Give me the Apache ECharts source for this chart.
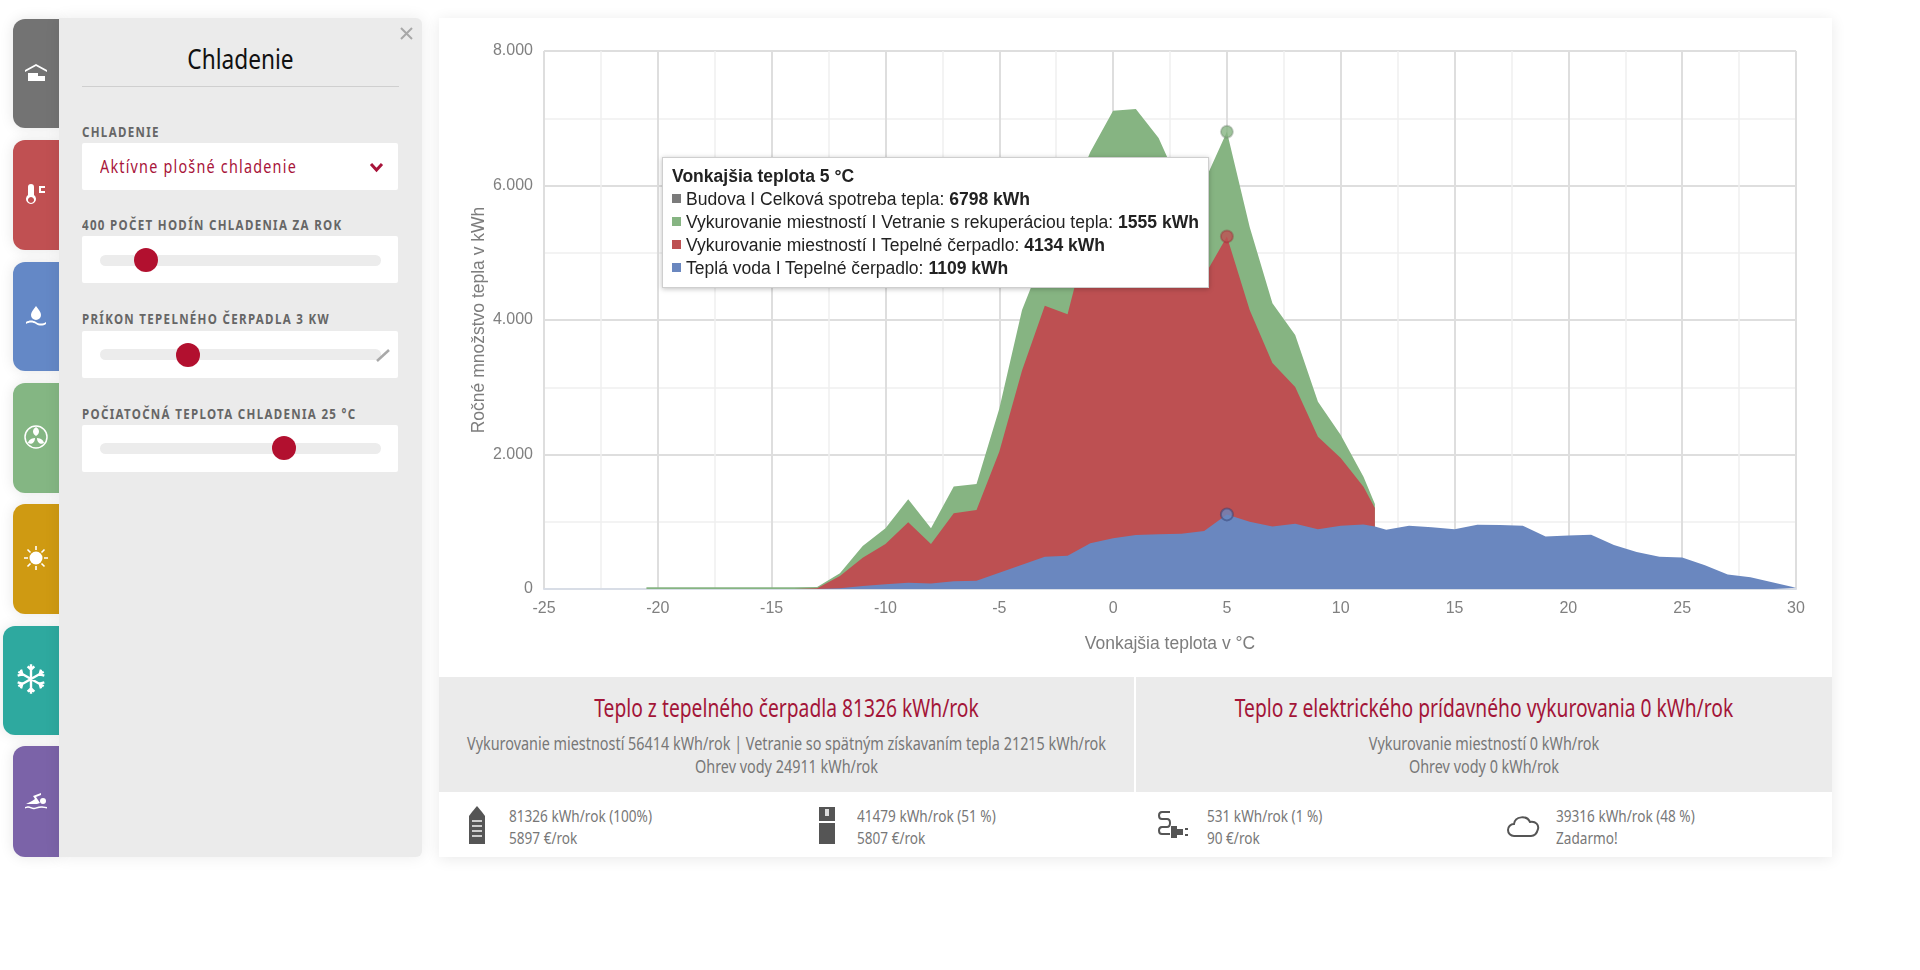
<!DOCTYPE html>
<html lang="sk">
<head>
<meta charset="utf-8">
<title>Chladenie</title>
<script src="https://cdn.jsdelivr.net/npm/echarts@6/dist/echarts.min.js"></script>
<style>
html,body{margin:0;padding:0;background:#fff;width:1920px;height:970px;overflow:hidden}
body{position:relative;font-family:"Noto Sans",sans-serif}
.abs{position:absolute}
.tab{position:absolute;left:13px;width:46px;border-radius:12px 0 0 12px;box-shadow:0 0 14px rgba(0,0,0,.1)}
.tab svg{position:absolute;left:11px;width:24px;height:24px;fill:#fff;stroke:none}
#panel{position:absolute;left:59px;top:18px;width:363px;height:839px;background:#ebebeb;border-radius:0 6px 6px 0;box-shadow:0 0 16px rgba(0,0,0,.08)}
#title{position:absolute;left:82px;top:38px;width:317px;text-align:center;font-size:28px;color:#111;line-height:40px;transform:scaleX(.81)}
#rule{position:absolute;left:82px;top:86px;width:317px;height:1px;background:#cfcfcf}
.lbl{position:absolute;left:82px;font-size:15px;font-weight:bold;letter-spacing:1.7px;color:#666;line-height:18px;white-space:nowrap;transform:scaleX(.77);transform-origin:0 50%}
.box{position:absolute;left:82px;width:316px;height:47px;background:#fff;border-radius:2px}
.track{position:absolute;left:100px;width:281px;height:11px;border-radius:6px;background:#ececec}
.thumb{position:absolute;width:24px;height:24px;border-radius:50%;background:#b2102f}
#sel{position:absolute;left:100px;top:155px;font-size:18px;letter-spacing:1.5px;color:#a8143a;line-height:22px;white-space:nowrap;transform:scaleX(.8);transform-origin:0 50%}
#card{position:absolute;left:439px;top:18px;width:1393px;height:839px;background:#fff;box-shadow:0 2px 14px rgba(0,0,0,.09)}
#chart{position:absolute;left:439px;top:18px;width:1393px;height:658px}
.band{position:absolute;top:677px;height:115px;background:#ebebeb;text-align:center;overflow:hidden}
.band h3{margin:16px -100px 0;font-size:25px;font-weight:normal;color:#a31538;line-height:28px;white-space:nowrap;transform:scaleX(.77)}
.band p{margin:0 -100px;font-size:18px;color:#777;line-height:23px;white-space:nowrap;transform:scaleX(.8)}
.band p.first{margin-top:11px}
.stat{position:absolute;top:806px;font-size:16px;color:#777;line-height:21.5px;white-space:nowrap;transform:scaleX(.85);transform-origin:0 50%}
.ico{position:absolute;top:806px;width:36px;height:38px}
</style>
</head>
<body>
<div class="tab" style="top:19px;height:109px;background:#737373"><svg style="top:42px" viewBox="0 0 24 24"><path d="M12 3L1 9v2L12 5l11 6V9zM4 12h10v3h7v5H4z"/></svg></div>
<div class="tab" style="top:140px;height:110px;background:#c05052"><svg style="top:42px" viewBox="0 0 24 24"><path d="M7 2a3 3 0 0 1 3 3v8a5 5 0 1 1-6 0V5a3 3 0 0 1 3-3zm0 13a3 3 0 1 0 .01 0zM15 4h6v2h-4v3h4v2h-6z"/></svg></div>
<div class="tab" style="top:262px;height:109px;background:#6488c6"><svg style="top:42px" viewBox="0 0 24 24"><path d="M12 2c3 4 5 6 5 9a5 5 0 0 1-10 0c0-3 2-5 5-9zM2 18c3-2 7-2 10 0s7 2 10 0v2c-3 2-7 2-10 0s-7-2-10 0z"/></svg></div>
<div class="tab" style="top:383px;height:110px;background:#84b683"><svg style="top:42px" viewBox="0 0 24 24"><circle cx="12" cy="12" r="11" fill="none" stroke="#fff" stroke-width="1.5"/><path d="M12 11C8 9 8 4 12 2c4 2 4 7 0 9zM11 13c-4 0-7 3-7 5 3 2 7 0 7-5zM13 13c4 0 7 3 7 5-3 2-7 0-7-5z"/></svg></div>
<div class="tab" style="top:504px;height:110px;background:#cf9a12"><svg style="top:42px" viewBox="0 0 24 24"><circle cx="12" cy="12" r="6.5"/><path d="M12 0v4M12 20v4M0 12h4M20 12h4M3.5 3.5l3 3M17.5 17.5l3 3M3.5 20.5l3-3M17.5 6.5l3-3" stroke="#fff" stroke-width="1.6"/></svg></div>
<div class="tab" style="left:3px;width:56px;top:626px;height:109px;background:#2ea99f"><svg style="top:37px;left:12px;width:32px;height:32px" viewBox="0 0 24 24"><path d="M12 1v22M2.5 6.5l19 11M2.5 17.5l19-11M9.5 2.5L12 5l2.5-2.5M9.5 21.5L12 19l2.5 2.5M2 9.5L5.5 8.5 4.5 5M22 14.5l-3.500 1 1 3.500M2 14.500l3.500 1-1 3.500M22 9.500l-3.500-1 1-3.500" stroke="#fff" stroke-width="1.8" fill="none"/></svg></div>
<div class="tab" style="top:746px;height:111px;background:#7b63a8"><svg style="top:42px" viewBox="0 0 24 24"><circle cx="19" cy="13" r="3"/><path d="M2 16l6-3 3-2-2-3 8-3v2l-5 2 4 6-3 1H2zM1 19c3-1 4-1 6 0s4 1 6 0 5-1 10 0v1.500c-4-1-7-1-10 0s-4 1-6 0-4-1-6 0z"/></svg></div>

<div id="panel"></div>
<svg class="abs" style="left:400px;top:27px" width="13" height="13"><path d="M1 1l11 11M12 1L1 12" stroke="#a8a8a8" stroke-width="2"/></svg>
<div id="title">Chladenie</div>
<div id="rule"></div>

<div class="lbl" style="top:122px">CHLADENIE</div>
<div class="box" style="top:143px"></div>
<div id="sel">Aktívne plošné chladenie</div>
<svg class="abs" style="left:369px;top:162px" width="15" height="11"><path d="M2 2l5.500 6L13 2" fill="none" stroke="#a8143a" stroke-width="3"/></svg>

<div class="lbl" style="top:215px">400 POČET HODÍN CHLADENIA ZA ROK</div>
<div class="box" style="top:236px"></div>
<div class="track" style="top:255px"></div>
<div class="thumb" style="left:134px;top:248px"></div>

<div class="lbl" style="top:309px">PRÍKON TEPELNÉHO ČERPADLA 3 KW</div>
<div class="box" style="top:331px"></div>
<div class="track" style="top:349px"></div>
<div class="thumb" style="left:176px;top:343px"></div>
<svg class="abs" style="left:375px;top:348px" width="16" height="15"><path d="M2 13L14 2" stroke="#a9a9a9" stroke-width="2.500"/></svg>

<div class="lbl" style="top:404px">POČIATOČNÁ TEPLOTA CHLADENIA 25 °C</div>
<div class="box" style="top:425px"></div>
<div class="track" style="top:443px"></div>
<div class="thumb" style="left:272px;top:436px"></div>

<div id="card"></div>
<div id="chart"></div>

<div class="band" style="left:439px;width:695px">
  <h3>Teplo z tepelného čerpadla 81326 kWh/rok</h3>
  <p class="first">Vykurovanie miestností 56414 kWh/rok | Vetranie so spätným získavaním tepla 21215 kWh/rok</p>
  <p>Ohrev vody 24911 kWh/rok</p>
</div>
<div class="band" style="left:1136px;width:696px">
  <h3>Teplo z elektrického prídavného vykurovania 0 kWh/rok</h3>
  <p class="first">Vykurovanie miestností 0 kWh/rok</p>
  <p>Ohrev vody 0 kWh/rok</p>
</div>

<svg class="ico" style="left:459px" viewBox="0 0 36 38"><path d="M18 0l5 6 3 4v28H10V10l3-4z" fill="#555"/><path d="M13 14h10v2H13zM13 19h10v2H13zM13 24h10v2H13zM13 29h10v2H13z" fill="#ccc"/></svg>
<div class="stat" style="left:509px">81326 kWh/rok (100%)<br>5897 €/rok</div>
<svg class="ico" style="left:809px" viewBox="0 0 36 38"><path d="M10 1h16v14H10zM10 17h16v21H10z" fill="#555"/><path d="M16 3h4v7h-4z" fill="#ddd"/></svg>
<div class="stat" style="left:857px">41479 kWh/rok (51 %)<br>5807 €/rok</div>
<svg class="ico" style="left:1156px" viewBox="0 0 36 38"><path d="M14 6H6C2 6 2 13 6 13h5c4 0 4 8 0 8H6c-4 0-4 7 0 7h8" fill="none" stroke="#555" stroke-width="2"/><path d="M15 20h6v12h-6zM21 23h6v6h-6zM29 22h3v2h-3zM29 28h3v2h-3z" fill="#555"/></svg>
<div class="stat" style="left:1207px">531 kWh/rok (1 %)<br>90 €/rok</div>
<svg class="ico" style="left:1506px" viewBox="0 0 36 38"><path d="M8 30a6 6 0 0 1 0-12c1-8 13-9 16-2 6-1 9 3 8 7s-3 7-7 7z" fill="none" stroke="#555" stroke-width="2"/></svg>
<div class="stat" style="left:1556px">39316 kWh/rok (48 %)<br>Zadarmo!</div>

<script>
// vonkajsia teplota, odcitane z grafu
var temps = [-20.5,-20,-19,-18,-17,-16,-15,-14,-13,-12,-11,-10,-9,-8,-7,-6,-5,-4,-3,-2,-1,0,1,2,3,4,5,6,7,8,9,10,11,11.5,12,13,14,15,16,17,18,19,20,21,22,23,24,25,26,27,28,29,30];
var waterHeat = [0,0,0,0,0,0,0,0,0,10,45,70,94,80,114,124,243,360,481,496,680,754,803,815,820,864,1109,1000,930,970,890,940,960,930,880,940,920,890,955,950,940,780,795,805,655,550,480,470,355,215,175,95,20];
var roomHeat = [0,0,0,0,0,0,0,0,10,183,421,600,898,590,1012,1051,1797,2890,3730,3591,4720,4846,4847,4585,4180,3786,4134,3150,2430,2034,1375,1008,561,274];
var ventHeat = [25,25,25,25,25,25,25,25,20,40,174,233,342,233,397,387,640,900,789,1613,1100,1512,1488,1306,950,1400,1555,1233,890,773,520,342,149,60];
var totalHeat = [25,25,25,25,25,25,25,25,30,233,640,903,1334,903,1523,1562,2680,4150,5000,5700,6500,7112,7138,6706,5950,6050,6798,5383,4250,3777,2785,2290,1670,1264];

var hoverTemp = 5;
var seriesNames = ['Budova I Celková spotreba tepla','Vykurovanie miestností I Vetranie s rekuperáciou tepla','Vykurovanie miestností I Tepelné čerpadlo','Teplá voda I Tepelné čerpadlo'];
var seriesColors = ['#7b7b7b','#86b482','#bd5052','#6a87bf'];

var hoverIdx = temps.indexOf(hoverTemp);

// ECharts stackuje pri dvoch value osiach aj x, preto sa plochy kreslia odzadu ako kumulovane hodnoty
function cumulated(lists) {
    return temps.map(function (t, i) {
        var sum = 0;
        for (var k = 0; k < lists.length; k++) {
            if (i >= lists[k].length) return [t, null];
            sum += lists[k][i];
        }
        return [t, sum];
    });
}
function area(name, data, color, z) {
    return {
        name: name, type: 'line', data: data, z: z,
        symbol: 'none', lineStyle: {width: 0}, itemStyle: {color: color},
        areaStyle: {color: color, opacity: 1, origin: 'start'},
        emphasis: {disabled: true}, silent: true
    };
}
function thousands(v) {
    return String(v).replace(/\B(?=(\d{3})(?!\d))/g, '.');
}

var chart = echarts.init(document.getElementById('chart'));
chart.setOption({
    animation: false,
    grid: {left: 105, right: 36, top: 33, height: 538},
    tooltip: {
        trigger: 'axis',
        alwaysShowContent: true,
        axisPointer: {type: 'none'},
        position: [223, 139],
        padding: [7, 9],
        backgroundColor: '#fff',
        borderColor: '#cfcfcf',
        borderWidth: 1,
        transitionDuration: 0,
        extraCssText: 'box-shadow:0 1px 5px rgba(0,0,0,.25);border-radius:0;line-height:23px;',
        textStyle: {fontFamily: 'Liberation Sans, sans-serif', fontSize: 17.55, color: '#222'},
        formatter: function () {
            var vals = [totalHeat[hoverIdx], ventHeat[hoverIdx], roomHeat[hoverIdx], waterHeat[hoverIdx]];
            var html = '<b>Vonkajšia teplota ' + hoverTemp + ' °C</b>';
            seriesNames.forEach(function (n, i) {
                html += '<br><span style="display:inline-block;width:9px;height:9px;margin-right:5px;vertical-align:2px;background:' + seriesColors[i] + '"></span>' + n + ': <b>' + vals[i] + ' kWh</b>';
            });
            return html;
        }
    },
    xAxis: {
        type: 'value', min: -25, max: 30, interval: 5,
        name: 'Vonkajšia teplota v °C', nameLocation: 'middle', nameGap: 46,
        nameTextStyle: {color: '#7d7d7d', fontSize: 17.5, fontFamily: 'Liberation Sans'},
        axisLine: {show: true, onZero: false, lineStyle: {color: '#d8dde6', width: 2}},
        axisTick: {show: false},
        axisLabel: {color: '#808080', fontSize: 16, fontFamily: 'Liberation Sans', margin: 12},
        splitLine: {show: true, lineStyle: {color: '#dedede', width: 2}},
        minorTick: {show: false, splitNumber: 2},
        minorSplitLine: {show: true, lineStyle: {color: '#f0f0f0', width: 1.500}}
    },
    yAxis: {
        type: 'value', min: 0, max: 8000, interval: 2000,
        name: 'Ročné množstvo tepla v kWh', nameLocation: 'middle', nameGap: 56, nameMoveOverlap: false,
        nameTextStyle: {color: '#7d7d7d', fontSize: 17.5, fontFamily: 'Liberation Sans'},
        axisLine: {show: false},
        axisTick: {show: false},
        axisLabel: {color: '#808080', fontSize: 16, fontFamily: 'Liberation Sans', margin: 11, formatter: thousands},
        splitLine: {show: true, lineStyle: {color: '#dedede', width: 2}},
        minorTick: {show: false, splitNumber: 2},
        minorSplitLine: {show: true, lineStyle: {color: '#f0f0f0', width: 1.500}}
    },
    series: [
        area(seriesNames[1], cumulated([waterHeat, roomHeat, ventHeat]), seriesColors[1], 2),
        area(seriesNames[2], cumulated([waterHeat, roomHeat]), seriesColors[2], 3),
        area(seriesNames[3], cumulated([waterHeat]), seriesColors[3], 4),
        // zvyrazneny bod pri aktualnej teplote
        {
            type: 'scatter', symbolSize: 12, z: 5, silent: true, tooltip: {show: false},
            emphasis: {disabled: true},
            data: [
                {value: [hoverTemp, totalHeat[hoverIdx]], itemStyle: {color: seriesColors[1], borderColor: 'rgba(110,130,110,.45)', borderWidth: 2}},
                {value: [hoverTemp, waterHeat[hoverIdx] + roomHeat[hoverIdx]], itemStyle: {color: seriesColors[2], borderColor: 'rgba(150,40,50,.45)', borderWidth: 2}},
                {value: [hoverTemp, waterHeat[hoverIdx]], itemStyle: {color: seriesColors[3], borderColor: 'rgba(50,60,110,.6)', borderWidth: 2}}
            ]
        }
    ]
});
chart.dispatchAction({type: 'showTip', seriesIndex: 0, dataIndex: hoverIdx});
</script>
</body>
</html>
